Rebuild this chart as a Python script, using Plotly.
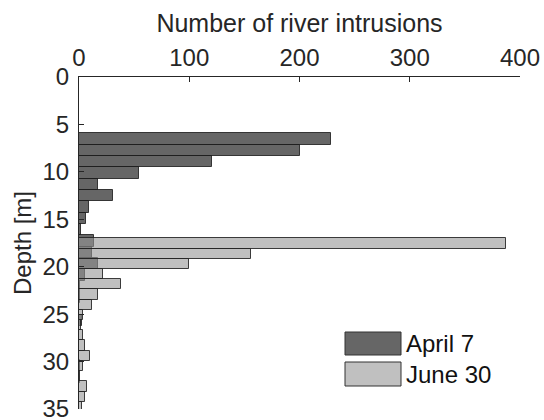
import plotly.graph_objects as go

# ---- data ----
series_names = ["April 7", "June 30"]

april_edges = [5.94, 7.13, 8.33, 9.52, 10.72, 11.91, 13.11, 14.30, 15.50, 16.69,
               17.89, 19.08, 20.28, 21.47, 22.67, 23.86, 25.06, 26.25, 27.45,
               28.64, 29.84, 31.03, 32.23]
april_counts = [229, 200, 121, 54, 17, 31, 9, 6, 2, 14,
                12, 17, 5, 1, 1, 0, 3, 0, 0, 0, 1, 1]

june_edges = [17.00, 18.08, 19.15, 20.23, 21.31, 22.39, 23.46, 24.54, 25.62,
              26.69, 27.77, 28.85, 29.92, 31.00, 32.08, 33.16, 34.23, 35.31]
june_counts = [387, 156, 100, 22, 38, 17, 12, 4, 2, 4, 5, 10, 4, 0, 7, 5, 3]

x_ticks = [0, 100, 200, 300, 400]
y_ticks = [0, 5, 10, 15, 20, 25, 30, 35]

x_title = "Number of river intrusions"
y_title = "Depth [m]"

# ---- styling ----
FONT = "Liberation Sans, Arial, sans-serif"
AXC = "#262626"
fills = ["rgba(0,0,0,0.6)", "rgba(150,150,150,0.6)"]
legend_fills = ["#666666", "#c0c0c0"]
EDGE = "rgba(30,30,30,0.85)"


def centers(edges):
    return [(a + b) / 2 for a, b in zip(edges[:-1], edges[1:])]


def widths(edges):
    return [b - a for a, b in zip(edges[:-1], edges[1:])]


fig = go.Figure()
for name, edges, counts, fill in [
    (series_names[0], april_edges, april_counts, fills[0]),
    (series_names[1], june_edges, june_counts, fills[1]),
]:
    fig.add_trace(go.Bar(
        name=name, orientation="h",
        y=centers(edges), x=counts, width=widths(edges),
        marker=dict(color=fill, line=dict(color=EDGE, width=1)),
        showlegend=False,
    ))

W, H = 544, 420
ml, mr, mt, mb = 79, 24, 77, 11

fig.update_layout(
    width=W, height=H,
    margin=dict(l=ml, r=mr, t=mt, b=mb),
    barmode="overlay", bargap=0,
    plot_bgcolor="white", paper_bgcolor="white",
    font=dict(family=FONT, size=24, color=AXC),
    xaxis=dict(
        side="top", range=[0, 400], tickvals=x_ticks,
        ticks="inside", ticklen=5, tickwidth=1, tickcolor=AXC,
        showline=True, linecolor=AXC, linewidth=1,
        showgrid=False, zeroline=False, ticklabeloverflow="allow",
        tickfont=dict(size=24),
        title=dict(text=x_title, font=dict(size=25), standoff=4),
        automargin=False,
    ),
    yaxis=dict(
        range=[35, 0], tickvals=y_ticks,
        ticks="inside", ticklen=5, tickwidth=1, tickcolor=AXC,
        showline=True, linecolor=AXC, linewidth=1,
        showgrid=False, zeroline=False, ticklabeloverflow="allow",
        tickfont=dict(size=24), ticklabelstandoff=4,
        title=dict(text=y_title, font=dict(size=24), standoff=4),
        automargin=False,
    ),
)

# legend drawn as boxes + labels (paper coords)
pw = W - ml - mr
ph = H - mt - mb
def px_x(p):
    return (p - ml) / pw
def px_y(p):
    return (H - mb - p) / ph

legend_rows = [(332, 355), (362, 386)]
for i, (top, bot) in enumerate(legend_rows):
    fig.add_shape(type="rect", xref="paper", yref="paper",
                  x0=px_x(345), x1=px_x(401), y0=px_y(bot), y1=px_y(top),
                  fillcolor=legend_fills[i], line=dict(color="#333333", width=1))
    fig.add_annotation(xref="paper", yref="paper", x=px_x(404), y=px_y((top + bot) / 2),
                       xanchor="left", yanchor="middle", showarrow=False,
                       text=series_names[i], font=dict(size=24, color="#111111", family=FONT))

fig.write_html("out.html")
